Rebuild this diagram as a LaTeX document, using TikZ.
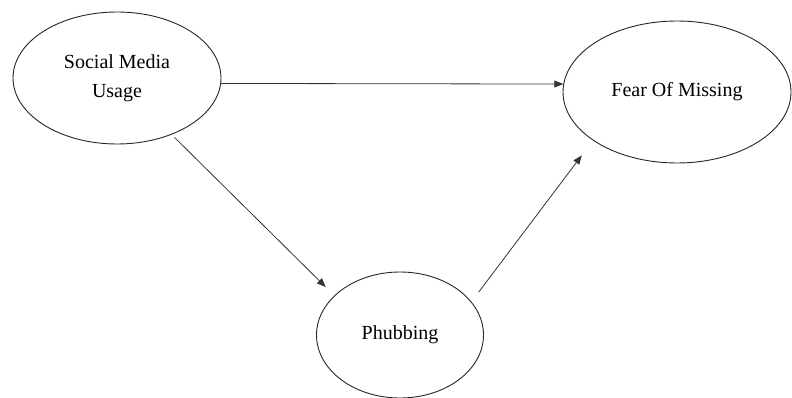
\documentclass[tikz,border=0pt]{standalone}
\usepackage{fontspec}
\setmainfont{Liberation Serif}
\usetikzlibrary{shapes.geometric,arrows.meta}

\begin{document}
\begin{tikzpicture}%
        [x=1pt, y=-1pt,
        construct/.style={ellipse, draw=black!85, line width=0.9pt, inner sep=0pt,
                align=center, font=\fontsize{20}{29}\selectfont},
        path/.style={draw=black!80, line width=0.8pt, -{Triangle[length=9pt,width=7pt]}}]
%
%
%% Frame of the picture:
%%
\useasboundingbox (0,0) rectangle (792,398);
%%
%%
%% Drawing the constructs
%%
\node[construct, minimum width=208, minimum height=132] (usage) at (117,78) {Social Media\\Usage};
\node[construct, minimum width=228, minimum height=142] (fomo) at (677,92) {Fear Of Missing};
\node[construct, minimum width=167, minimum height=126] (phubbing) at (400,335) {Phubbing};
%%
%%
%% Drawing the paths
%%
\draw[path] (usage.-3.3) -- (fomo.176);
\draw[path, shorten <=4pt, shorten >=12pt] (usage.-46) -- (phubbing.149);
\draw[path, shorten <=12pt, shorten >=18.6pt] (phubbing.25) -- (fomo.-150);

\end{tikzpicture}
\end{document}
